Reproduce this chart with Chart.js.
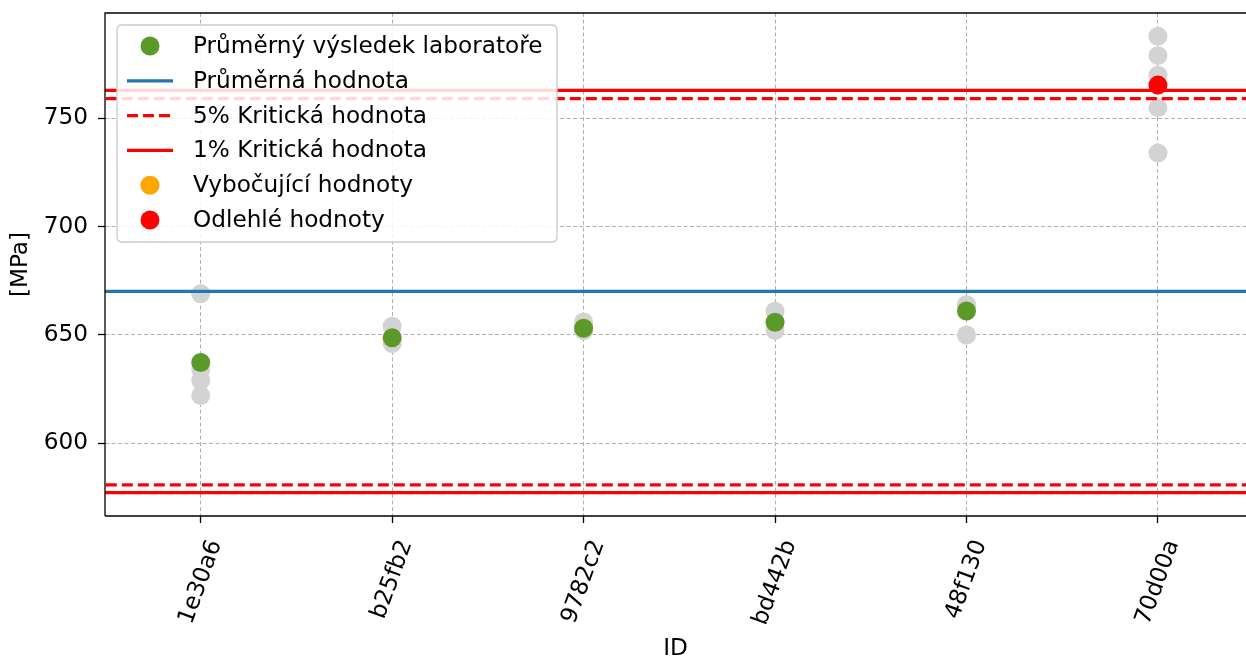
<!DOCTYPE html>
<html><head><meta charset="utf-8">
<script src="https://cdn.jsdelivr.net/npm/chart.js@4/dist/chart.umd.min.js"></script>
<style>html,body{margin:0;padding:0;background:#fff;overflow:hidden}#wrap{width:1246px;height:659px;position:relative}</style>
</head><body><div id="wrap"><canvas id="c" width="1246" height="659"></canvas></div>
<script>
const categories = ['1e30a6', 'b25fb2', '9782c2', 'bd442b', '48f130', '70d00a'];
const labValues = [
  [669, 634, 629, 622],
  [654, 648, 646],
  [656, 652, 652],
  [661, 656, 652],
  [664, 664, 663, 650],
  [788, 779, 770, 755, 734]
];
const labMeans = [637.3, 648.7, 653.1, 655.9, 661.1, 765.4];
const labStatus = ['ok', 'ok', 'ok', 'ok', 'ok', 'outlier'];
const overallMean = 670.1;
const crit5 = [580.8, 759.2];
const crit1 = [577.2, 763.0];
const yTicks = [600, 650, 700, 750];
const yRange = [566.4, 798.7];
const xRange = [-0.5, 5.46];
const legendLabels = ['Průměrný výsledek laboratoře', 'Průměrná hodnota', '5% Kritická hodnota', '1% Kritická hodnota', 'Vybočující hodnoty', 'Odlehlé hodnoty'];

const FONT = 'DejaVu Sans';
const FS = 23.2;
const statusColor = {ok: '#5b9a29', straggler: '#ffa500', outlier: '#ff0000'};

const grayPts = [];
labValues.forEach((arr, i) => arr.forEach(v => grayPts.push({x: i, y: v})));
const meanPts = labMeans.map((v, i) => ({x: i, y: v}));
const hline = y => [{x: -2, y: y}, {x: 8, y: y}];

const frame = {
  id: 'frame',
  afterDraw(chart) {
    const {ctx, chartArea: a} = chart;
    ctx.save();
    ctx.strokeStyle = '#000';
    ctx.lineWidth = 1.3;
    ctx.beginPath();
    ctx.moveTo(a.left, a.bottom); ctx.lineTo(a.left, a.top); ctx.lineTo(a.right, a.top);
    ctx.moveTo(a.left, a.bottom); ctx.lineTo(a.right, a.bottom);
    ctx.stroke();
    // rotated x tick labels, bounding box centred on the tick
    ctx.font = FS + 'px "' + FONT + '"';
    ctx.fillStyle = '#000';
    ctx.textAlign = 'center';
    ctx.textBaseline = 'middle';
    const ang = 70 * Math.PI / 180;
    const xs = chart.scales.x;
    categories.forEach((c, i) => {
      const w = ctx.measureText(c).width, h = FS * 0.78;
      const bh = w * Math.sin(ang) + h * Math.cos(ang);
      const cx = xs.getPixelForValue(i), cy = a.bottom + 22 + bh / 2;
      ctx.save(); ctx.translate(cx, cy); ctx.rotate(-ang); ctx.fillText(c, 0, 0); ctx.restore();
    });
    // legend
    const bx = 117, by = 25, bw = 440, bh = 217, r = 5;
    ctx.beginPath();
    ctx.moveTo(bx + r, by); ctx.lineTo(bx + bw - r, by); ctx.quadraticCurveTo(bx + bw, by, bx + bw, by + r);
    ctx.lineTo(bx + bw, by + bh - r); ctx.quadraticCurveTo(bx + bw, by + bh, bx + bw - r, by + bh);
    ctx.lineTo(bx + r, by + bh); ctx.quadraticCurveTo(bx, by + bh, bx, by + bh - r);
    ctx.lineTo(bx, by + r); ctx.quadraticCurveTo(bx, by, bx + r, by);
    ctx.closePath();
    ctx.fillStyle = 'rgba(255,255,255,0.85)';
    ctx.fill();
    ctx.strokeStyle = '#cccccc';
    ctx.lineWidth = 1.3;
    ctx.stroke();
    const rows = [46, 80.8, 115.6, 150.4, 185.2, 220];
    const kinds = [['dot', statusColor.ok], ['line', '#1f77b4'], ['dash', '#ff0000'], ['line', '#ff0000'], ['dot', statusColor.straggler], ['dot', statusColor.outlier]];
    ctx.textBaseline = 'middle';
    ctx.textAlign = 'left';
    rows.forEach((y, i) => {
      const [k, c] = kinds[i];
      if (k === 'dot') {
        ctx.fillStyle = c; ctx.beginPath(); ctx.arc(150, y, 9.5, 0, Math.PI * 2); ctx.fill();
      } else {
        ctx.strokeStyle = c; ctx.lineWidth = 3.2;
        ctx.setLineDash(k === 'dash' ? [11, 5] : []);
        ctx.beginPath(); ctx.moveTo(127, y); ctx.lineTo(173, y); ctx.stroke();
        ctx.setLineDash([]);
      }
      ctx.fillStyle = '#000';
      ctx.fillText(legendLabels[i], 193, y + 1);
    });
    ctx.restore();
  }
};

const lineDs = (label, y, color, dash, order) => ({
  label, data: hline(y), showLine: true, borderColor: color, borderWidth: 3.2,
  borderDash: dash, pointRadius: 0, pointHoverRadius: 0, order
});

new Chart(document.getElementById('c'), {
  type: 'scatter',
  data: {
    datasets: [
      {label: 'grey', data: grayPts, backgroundColor: '#d3d3d3', borderWidth: 0, pointRadius: 9.5, order: 10},
      lineDs('Průměrná hodnota', overallMean, '#1f77b4', [], 5),
      lineDs('5% low', crit5[0], '#ff0000', [11, 5], 5),
      lineDs('5% high', crit5[1], '#ff0000', [11, 5], 5),
      lineDs('1% low', crit1[0], '#ff0000', [], 5),
      lineDs('1% high', crit1[1], '#ff0000', [], 5),
      {label: 'Průměrný výsledek laboratoře', data: meanPts, pointBackgroundColor: labStatus.map(s => statusColor[s]),
       backgroundColor: labStatus.map(s => statusColor[s]), borderWidth: 0, pointRadius: 9.5, order: 1}
    ]
  },
  options: {
    responsive: false, animation: false, devicePixelRatio: 1,
    layout: {autoPadding: false, padding: {top: 13, right: 0, left: 0, bottom: 0}},
    plugins: {legend: {display: false}, tooltip: {enabled: false}},
    scales: {
      x: {
        type: 'linear', min: xRange[0], max: xRange[1],
        afterBuildTicks: s => { s.ticks = categories.map((c, i) => ({value: i})); },
        afterFit: s => { s.height = 143; s.paddingLeft = 0; s.paddingRight = 0; },
        ticks: {
          autoSkip: false, minRotation: 0, maxRotation: 0, padding: 0, color: 'rgba(0,0,0,0)',
          font: {family: FONT, size: 1},
          callback: v => categories[v]
        },
        grid: {color: '#b0b0b0', lineWidth: 1, tickColor: '#000', tickWidth: 1.3, tickLength: 7, tickBorderDash: [], drawTicks: true},
        border: {display: false, dash: [4, 2.5]},
        title: {display: true, text: 'ID', color: '#000', font: {family: FONT, size: FS}, padding: {top: 0, bottom: -4}}
      },
      y: {
        min: yRange[0], max: yRange[1],
        afterBuildTicks: s => { s.ticks = yTicks.map(v => ({value: v})); },
        afterFit: s => { s.width = 105; s.paddingTop = 0; s.paddingBottom = 0; },
        ticks: {color: '#000', padding: 10, font: {family: FONT, size: FS}, callback: v => String(v)},
        grid: {color: '#b0b0b0', lineWidth: 1, tickColor: '#000', tickWidth: 1.3, tickLength: 7, tickBorderDash: []},
        border: {display: false, dash: [4, 2.5]},
        title: {display: true, text: '[MPa]', color: '#000', font: {family: FONT, size: FS}, padding: {top: 7, bottom: 0}}
      }
    }
  },
  plugins: [frame]
});
</script></body></html>
